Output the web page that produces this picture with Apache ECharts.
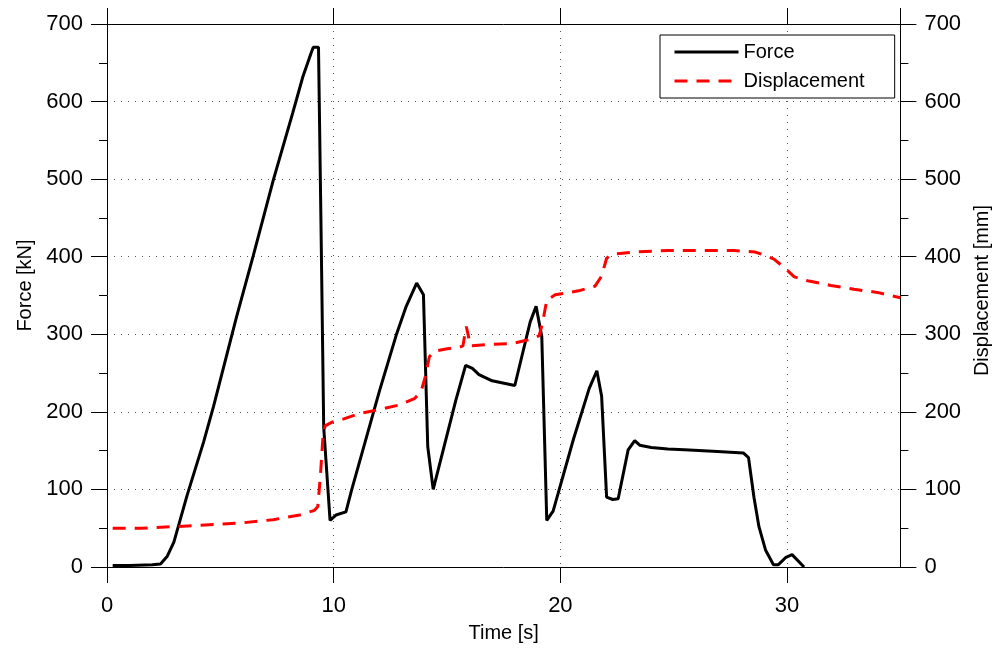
<!DOCTYPE html>
<html>
<head>
<meta charset="utf-8">
<script src="https://cdn.jsdelivr.net/npm/echarts@6/dist/echarts.min.js"></script>
<style>
  html, body { margin: 0; padding: 0; background: #fff; }
  #chart { width: 1000px; height: 648px; }
</style>
</head>
<body>
<div id="chart"></div>
<script>
// Force [kN] vs time [s]
const forceTime = [0.25, 1.0, 2.0, 2.36, 2.66, 2.95, 3.53, 4.26, 4.70, 5.72, 6.45, 7.33, 8.20, 8.64, 9.02, 9.10, 9.33, 9.45, 9.56, 9.84,
  10.1, 10.54, 10.79, 12.03, 12.76, 13.20, 13.66, 13.96, 14.15, 14.39, 15.39, 15.82, 16.12, 16.41, 16.99, 17.99,
  18.67, 18.93, 19.18, 19.40, 19.68, 20.58, 21.27, 21.61, 21.82, 22.04, 22.31, 22.55, 22.99, 23.28, 23.50,
  24.01, 24.74, 25.47, 26.93, 28.07, 28.30, 28.54, 28.76, 29.05, 29.40, 29.62, 29.93, 30.22, 30.75]
const forceValue = [2, 2, 3, 4, 14, 32, 92, 161, 207, 323, 401, 498, 586, 632, 664, 670, 670, 420, 180, 60,
  67, 71, 99, 228, 299, 336, 366, 351, 155, 100, 215, 260, 256, 248, 240, 234,
  316, 336, 297, 60, 72, 165, 230, 253, 220, 90, 87, 88, 151, 163, 157,
  154, 152, 151, 149, 147, 141, 90, 52, 22, 3, 3, 12, 16, 0]

// Displacement [mm] vs time [s]
const dispTime = [0.25, 1.5, 2.95, 4.85, 6.0, 7.33, 8.5, 9.15, 9.30, 9.42, 9.52, 9.62, 9.95, 10.45, 11.15, 12.03, 12.91,
  13.56, 13.85, 14.04, 14.22, 14.44, 14.95, 15.61, 15.70, 15.85, 16.04, 16.85, 17.87, 18.6, 19.06, 19.21, 19.4,
  19.77, 20.8, 21.53, 21.82, 22.04, 22.26, 23.28, 24.74, 26.2, 27.66, 28.6, 29.0, 29.42, 29.88, 30.32, 30.91,
  31.93, 32.95, 33.98, 35.0]
const dispValue = [50, 50, 52, 55, 57, 61, 67, 73, 78, 120, 165, 182, 187, 191, 198, 203, 209,
  217, 226, 245, 271, 278, 281, 284, 285, 310, 285, 287, 288, 293, 298, 314, 344,
  351, 356, 362, 375, 398, 403, 406, 408, 408, 408, 406, 402, 397, 386, 374, 369,
  363, 358, 354, 347]

const xTicks = { min: 0, max: 35, interval: 10 }
const yTicks = { min: 0, max: 700, interval: 100 }

const font = 'Liberation Sans, Arial, Helvetica, sans-serif'
const dotted = { show: true, lineStyle: { color: '#555', width: 1, type: [1, 6] } }

const chart = echarts.init(document.getElementById('chart'))

function yAxisCfg(pos, name, shift) {
  return {
    type: 'value',
    position: pos,
    min: yTicks.min,
    max: yTicks.max,
    interval: yTicks.interval,
    name: name,
    nameLocation: 'middle',
    nameGap: pos === 'left' ? 72 : 70,
    nameRotate: 90,
    // left padding moves the rotated name a bit upwards
    nameTextStyle: { color: '#000', fontSize: 20, fontFamily: font, padding: [0, 0, 0, shift] },
    axisLine: { show: true, onZero: false, lineStyle: { color: '#000', width: 1 } },
    axisTick: { show: true, inside: false, length: 16, lineStyle: { color: '#000' } },
    minorTick: { show: true, splitNumber: 2, length: 8, lineStyle: { color: '#000' } },
    axisLabel: { color: '#000', fontSize: 22, fontFamily: font, margin: 24 },
    splitLine: pos === 'left' ? dotted : { show: false }
  }
}

chart.setOption({
  animation: false,
  backgroundColor: '#fff',
  grid: { left: 107, right: 95, top: 24, bottom: 81 },
  legend: {
    left: 660,
    top: 35,
    orient: 'vertical',
    backgroundColor: '#fff',
    borderColor: '#000',
    borderWidth: 1,
    borderRadius: 0,
    padding: [7, 30, 7, 13],
    itemGap: 9,
    itemWidth: 64,
    itemHeight: 14,
    itemStyle: { color: 'rgba(0,0,0,0)', borderWidth: 0, opacity: 0 },
    lineStyle: { width: 3 },
    textStyle: { color: '#000', fontSize: 20, fontFamily: font, padding: [0, 0, 0, 0] },
    data: ['Force', 'Displacement']
  },
  xAxis: [
    {
      type: 'value',
      position: 'bottom',
      min: xTicks.min,
      max: xTicks.max,
      interval: xTicks.interval,
      name: 'Time [s]',
      nameLocation: 'middle',
      nameGap: 56,
      nameTextStyle: { color: '#000', fontSize: 20, fontFamily: font },
      axisLine: { show: true, onZero: false, lineStyle: { color: '#000', width: 1 } },
      axisTick: { show: true, inside: false, length: 16, lineStyle: { color: '#000' } },
      axisLabel: { color: '#000', fontSize: 22, fontFamily: font, margin: 28, showMaxLabel: false },
      splitLine: dotted
    },
    {
      type: 'value',
      position: 'top',
      min: xTicks.min,
      max: xTicks.max,
      interval: xTicks.interval,
      axisLine: { show: true, onZero: false, lineStyle: { color: '#000', width: 1 } },
      axisTick: { show: true, inside: false, length: 16, lineStyle: { color: '#000' } },
      axisLabel: { show: false },
      splitLine: { show: false }
    }
  ],
  yAxis: [
    yAxisCfg('left', 'Force [kN]', 20),
    yAxisCfg('right', 'Displacement [mm]', 10)
  ],
  series: [
    {
      name: 'Force',
      type: 'line',
      xAxisIndex: 0,
      yAxisIndex: 0,
      showSymbol: false,
      symbol: 'none',
      lineStyle: { color: '#000', width: 3 },
      itemStyle: { color: '#000' },
      data: forceTime.map((t, i) => [t, forceValue[i]])
    },
    {
      name: 'Displacement',
      type: 'line',
      xAxisIndex: 0,
      yAxisIndex: 1,
      showSymbol: false,
      symbol: 'none',
      lineStyle: { color: '#ff0000', width: 3, type: [13, 9] },
      itemStyle: { color: '#ff0000' },
      data: dispTime.map((t, i) => [t, dispValue[i]])
    }
  ]
})
</script>
</body>
</html>
